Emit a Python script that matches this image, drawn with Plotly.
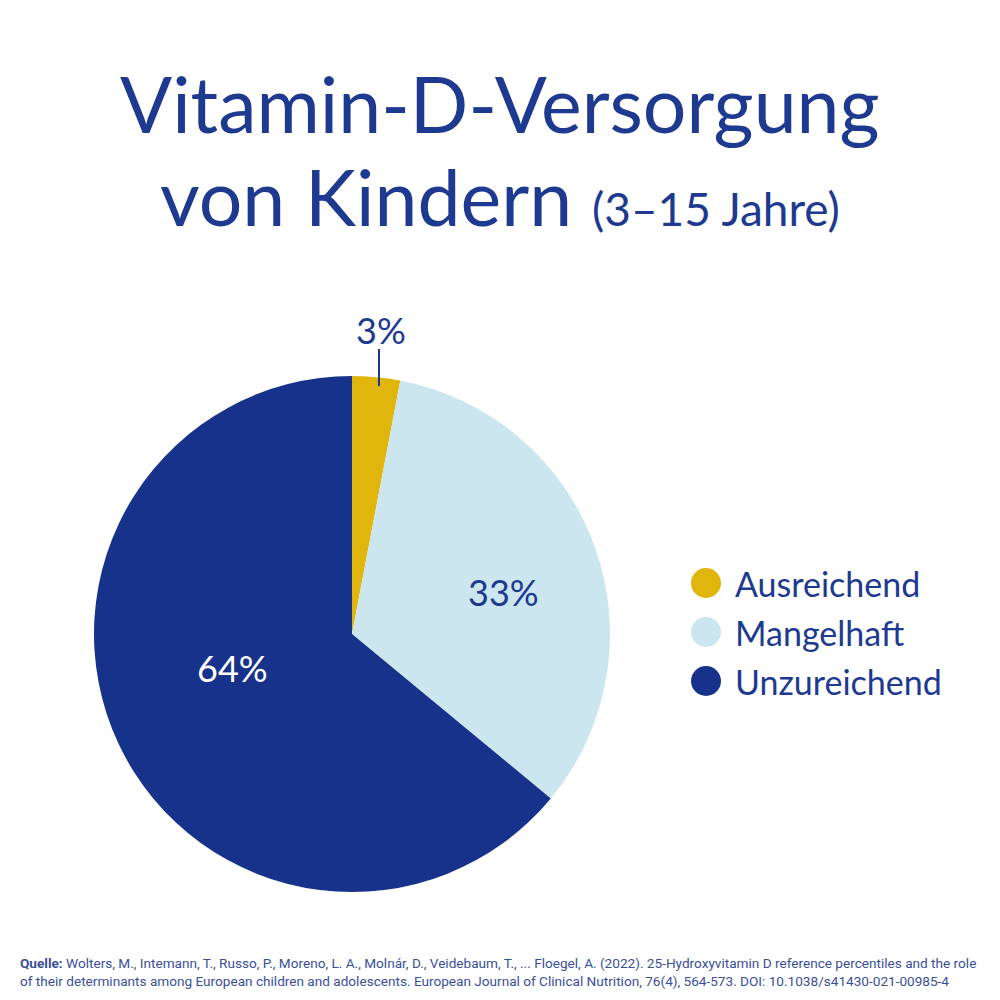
import plotly.graph_objects as go

# Daten
categories = ["Ausreichend", "Mangelhaft", "Unzureichend"]
values = [3, 33, 64]
colors = ["#E1B60C", "#CCE6EF", "#17328A"]
labelColors = ["#1D3990", "#1D3990", "#FFFFFF"]

titleColor = "#1D3990"
fontName = "Lato"
off = 8  # body margin of the html page


def px(x):
    return (x - off) / 1000


def py(y):
    return 1 - (y - off) / 1000


fig = go.Figure()

fig.add_trace(
    go.Pie(
        labels=categories,
        values=values,
        marker=dict(colors=colors, line=dict(width=0)),
        sort=False,
        direction="clockwise",
        rotation=0,
        textinfo="none",
        hoverinfo="label+percent",
        showlegend=False,
        domain=dict(x=[px(94), px(610)], y=[py(892), py(376)]),
    )
)

# Titel
fig.add_annotation(
    text="Vitamin-D-Versorgung",
    x=px(500), y=py(103), xref="paper", yref="paper",
    xanchor="center", yanchor="middle", showarrow=False,
    font=dict(family=fontName, size=77, color=titleColor),
)
fig.add_annotation(
    text="von Kindern <span style='font-size:46px'>(3–15 Jahre)</span>",
    x=px(500), y=py(196), xref="paper", yref="paper",
    xanchor="center", yanchor="middle", showarrow=False,
    font=dict(family=fontName, size=77, color=titleColor),
)

# Prozent-Beschriftungen
labelPos = [(381, 330), (503, 592), (232, 668)]
for v, c, (lx, ly) in zip(values, labelColors, labelPos):
    fig.add_annotation(
        text=f"{v}%", x=px(lx), y=py(ly), xref="paper", yref="paper",
        showarrow=False, xanchor="center", yanchor="middle",
        font=dict(family=fontName, size=36, color=c),
    )
# Linie zum kleinen Segment
fig.add_shape(
    type="line", xref="paper", yref="paper",
    x0=px(379), x1=px(379), y0=py(349), y1=py(386),
    line=dict(color=titleColor, width=2),
)

# Legende
for i, (cat, col) in enumerate(zip(categories, colors)):
    cy = 583 + i * 49
    fig.add_shape(
        type="circle", xref="paper", yref="paper",
        x0=px(691), x1=px(721), y0=py(cy + 15), y1=py(cy - 15),
        fillcolor=col, line=dict(width=0),
    )
    fig.add_annotation(
        text=cat, x=px(733), y=py(cy), xref="paper", yref="paper",
        showarrow=False, xanchor="left", yanchor="middle",
        font=dict(family=fontName, size=34, color=titleColor),
    )

# Quelle
fig.add_annotation(
    text="<b>Quelle:</b> Wolters, M., Intemann, T., Russo, P., Moreno, L. A., Molnár, D., Veidebaum, T., ... Floegel, A. (2022). 25-Hydroxyvitamin D reference percentiles and the role"
    "<br>of their determinants among European children and adolescents. European Journal of Clinical Nutrition, 76(4), 564-573. DOI: 10.1038/s41430-021-00985-4",
    x=px(18), y=py(972), xref="paper", yref="paper",
    showarrow=False, xanchor="left", yanchor="middle", align="left",
    font=dict(family="Roboto", size=13.6, color="#3A4F9A"),
)

fig.update_layout(
    width=1000,
    height=1000,
    margin=dict(l=0, r=0, t=0, b=0),
    paper_bgcolor="white",
    plot_bgcolor="white",
)

fig.write_html("out.html")
